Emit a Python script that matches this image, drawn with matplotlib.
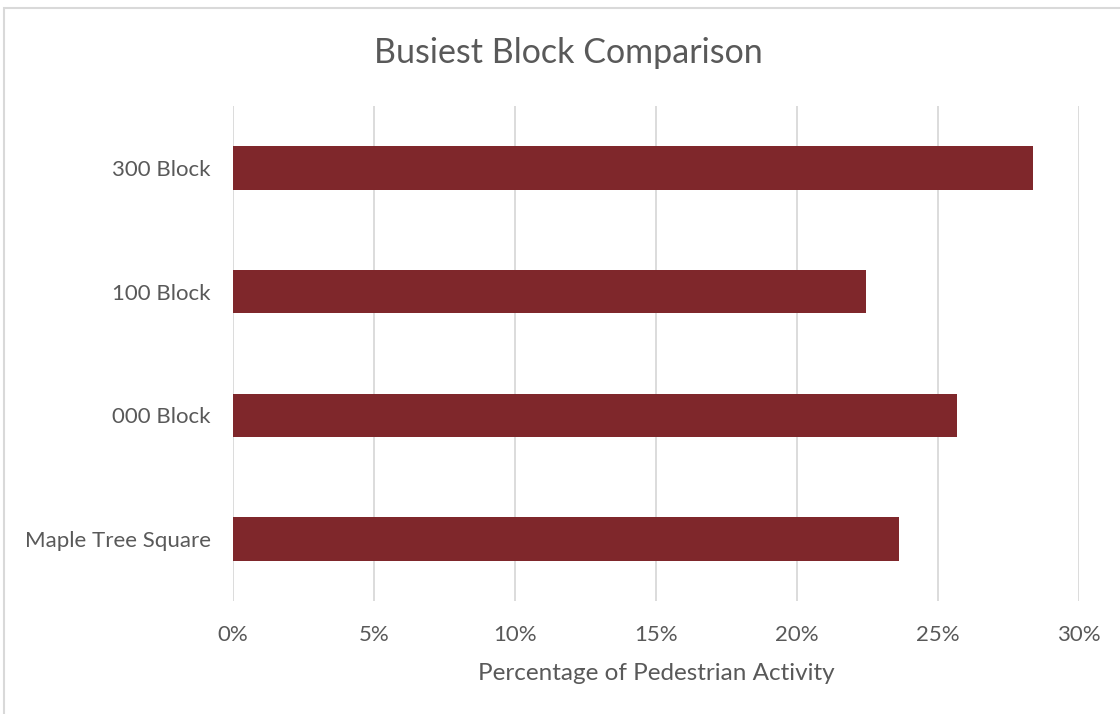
import matplotlib
matplotlib.use("Agg")
import matplotlib.pyplot as plt
from matplotlib.patches import Rectangle
from matplotlib.ticker import FuncFormatter, MultipleLocator

categories = ["Maple Tree Square", "000 Block", "100 Block", "300 Block"]
values = [0.236, 0.2567, 0.2243, 0.2838]
title = "Busiest Block Comparison"
xlabel = "Percentage of Pedestrian Activity"

plt.rcParams['font.family'] = ['Lato', 'DejaVu Sans']
text_color = '#595959'
grid_color = '#d9d9d9'
bar_color = '#7f272b'

fig = plt.figure(figsize=(11.2, 7.14), dpi=100)
fig.patch.set_facecolor('white')

# chart frame (left and top edges visible)
frame = Rectangle((4/1120, -0.1), 1.2, 1.1 - 8/714, transform=fig.transFigure,
                  fill=False, edgecolor=grid_color, linewidth=1.5, clip_on=False)
fig.patches.append(frame)

ax = fig.add_axes([233/1120, 1 - 601/714, (1079 - 233)/1120, (601 - 106)/714])
ypos = list(range(len(categories)))
ax.barh(ypos, values, height=0.35, color=bar_color, zorder=3)
ax.set_xlim(0, 0.30)
ax.set_ylim(-0.5, len(categories) - 0.5)
ax.set_yticks(ypos)
ax.set_yticklabels(categories)
ax.xaxis.set_major_locator(MultipleLocator(0.05))
ax.xaxis.set_major_formatter(FuncFormatter(lambda v, p: f"{v*100:.0f}%"))
ax.grid(axis='x', color=grid_color, linewidth=1.3, zorder=0)
for s in ax.spines.values():
    s.set_visible(False)
ax.tick_params(axis='both', length=0, labelsize=16, colors=text_color)
ax.tick_params(axis='x', pad=17)
ax.tick_params(axis='y', pad=16)
ax.set_xlabel(xlabel, fontsize=17.5, color=text_color, labelpad=13)
fig.text(568/1120, 1 - 53/714, title, ha='center', va='center', fontsize=24.5, color=text_color)

fig.savefig("out.png", dpi=100, facecolor='white')
